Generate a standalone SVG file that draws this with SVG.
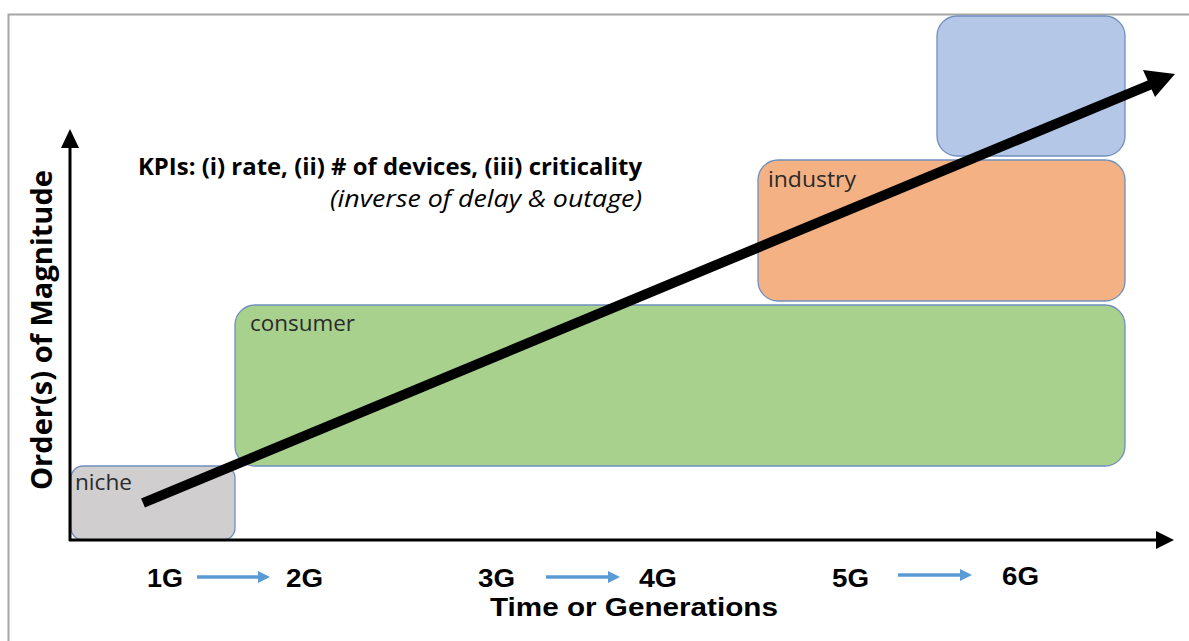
<svg xmlns="http://www.w3.org/2000/svg" width="1189" height="641" viewBox="0 0 1189 641">
<defs>
<style>
.box{stroke:#6f8fbf;stroke-width:1.3}
.lbl{font-family:"Open Sans","Liberation Sans",sans-serif;font-size:21px;fill:#2a2a2a}
.gen{font-family:"Liberation Sans",Arial,sans-serif;font-weight:bold;font-size:26px;fill:#000}
.ax{stroke:#000;stroke-width:3;fill:none}
.blue{stroke:#5b9bd5;stroke-width:3.5}
</style>
</defs>
<rect width="1189" height="641" fill="#fff"/>
<path d="M8.5,641 V14.5 H1189" fill="none" stroke="#a6a6a6" stroke-width="2"/>
<g id="niche"><rect class="box" x="71" y="466" width="164" height="74" rx="12" fill="#d0cece"/><text class="lbl" x="75" y="490" textLength="57" lengthAdjust="spacingAndGlyphs">niche</text></g>
<g id="consumer"><rect class="box" x="235" y="305" width="890" height="161" rx="20" fill="#a9d18e"/><text class="lbl" x="250" y="331" textLength="105" lengthAdjust="spacingAndGlyphs">consumer</text></g>
<g id="industry"><rect class="box" x="758" y="160" width="367" height="141" rx="20" fill="#f4b183"/><text class="lbl" x="768" y="187" textLength="88" lengthAdjust="spacingAndGlyphs">industry</text></g>
<g id="top"><rect class="box" x="937" y="16" width="188" height="140" rx="20" fill="#b4c7e7"/></g>
<g id="connectors">
<path d="M70,541 V148" class="ax"/><path d="M61,148 L70,129 L79,148 z" fill="#000"/>
<path d="M69,540 H1156" class="ax"/><path d="M1156,531 L1174,540 L1156,549 z" fill="#000"/>
<path d="M143,503 L1152,84" stroke="#000" stroke-width="10" fill="none"/>
<path d="M1143,70 L1175,74 L1155,97 z" fill="#000"/>
<line class="blue" x1="197" y1="577" x2="262" y2="577"/><path d="M258,571 L270,577 L258,583 z" fill="#5b9bd5"/>
<line class="blue" x1="546" y1="577" x2="612" y2="577"/><path d="M608,571 L620,577 L608,583 z" fill="#5b9bd5"/>
<line class="blue" x1="898" y1="575" x2="964" y2="575"/><path d="M960,569 L972,575 L960,581 z" fill="#5b9bd5"/>
</g>
<g id="labels">
<text x="138" y="175" textLength="504" lengthAdjust="spacingAndGlyphs" font-family="'Open Sans','Liberation Sans',sans-serif" font-weight="bold" font-size="23" fill="#000">KPIs: (i) rate, (ii) # of devices, (iii) criticality</text>
<text x="330" y="207" textLength="312" lengthAdjust="spacingAndGlyphs" font-family="'Open Sans','Liberation Sans',sans-serif" font-style="italic" font-size="24" fill="#000">(inverse of delay &amp; outage)</text>
<text transform="translate(52,330) rotate(-90)" text-anchor="middle" textLength="320" lengthAdjust="spacingAndGlyphs" font-family="'Open Sans','Liberation Sans',sans-serif" font-weight="bold" font-size="28" fill="#000">Order(s) of Magnitude</text>
<text class="gen" x="147" y="587" textLength="36" lengthAdjust="spacingAndGlyphs">1G</text>
<text class="gen" x="286" y="587" textLength="37" lengthAdjust="spacingAndGlyphs">2G</text>
<text class="gen" x="478" y="587" textLength="37" lengthAdjust="spacingAndGlyphs">3G</text>
<text class="gen" x="639" y="587" textLength="38" lengthAdjust="spacingAndGlyphs">4G</text>
<text class="gen" x="832" y="587" textLength="37" lengthAdjust="spacingAndGlyphs">5G</text>
<text class="gen" x="1002" y="585" textLength="37" lengthAdjust="spacingAndGlyphs">6G</text>
<text x="490" y="616" textLength="288" lengthAdjust="spacingAndGlyphs" font-family="'Liberation Sans',Arial,sans-serif" font-weight="bold" font-size="25" fill="#000">Time or Generations</text>
</g>
</svg>
